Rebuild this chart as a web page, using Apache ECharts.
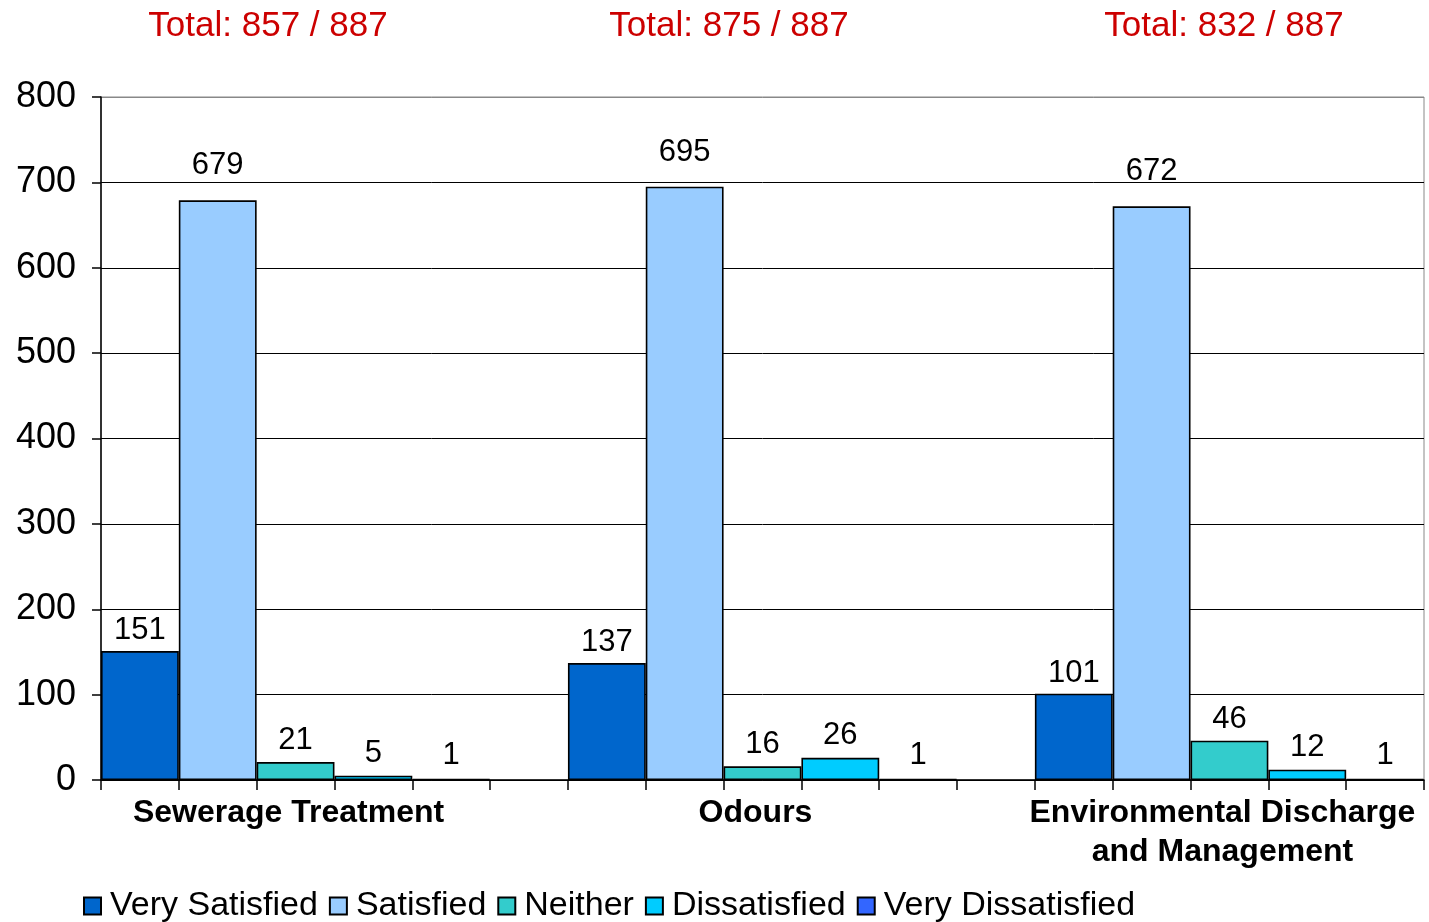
<!DOCTYPE html>
<html>
<head>
<meta charset="utf-8">
<script src="https://cdn.jsdelivr.net/npm/echarts@6/dist/echarts.min.js"></script>
<style>
html,body{margin:0;padding:0;background:#fff;overflow:hidden;}
#chart{width:1429px;height:922px;}
</style>
</head>
<body>
<div id="chart"></div>
<script>
// ---- data ----
const categories = ['Sewerage Treatment', 'Odours', 'Environmental Discharge\nand Management'];
const seriesNames = ['Very Satisfied', 'Satisfied', 'Neither', 'Dissatisfied', 'Very Dissatisfied'];
const verySatisfied = [151, 137, 101];
const satisfied = [679, 695, 672];
const neither = [21, 16, 46];
const dissatisfied = [5, 26, 12];
const veryDissatisfied = [1, 1, 1];
const respondents = 887;
const yMin = 0, yMax = 800, yInterval = 100;

// ---- layout / style ----
const colors = ['#0066CC', '#99CCFF', '#33CCCC', '#00CCFF', '#3366FF'];
const labelDistance = [5, 19, 6, 7, 8];
const titleX = [268, 729, 1224];
const FONT = 'Liberation Sans, Arial, sans-serif';
const allSeries = [verySatisfied, satisfied, neither, dissatisfied, veryDissatisfied];
const slotsPerGroup = seriesNames.length + 1;            // 5 bars + 1 gap slot
const totalSlots = categories.length * slotsPerGroup - 1; // no trailing gap

const el = document.getElementById('chart');
const chart = echarts.init(el, null, {renderer: 'canvas'});
const W = chart.getWidth();
const gridLeft = 101, gridRight = W - 1424, gridTop = 97, gridBottom = 142;
const slotPx = (W - gridLeft - gridRight) / totalSlots;

const totals = categories.map((c, i) => allSeries.reduce((s, arr) => s + arr[i], 0));
const groupCenter = g => g * slotsPerGroup + seriesNames.length / 2;

const nSplit = (yMax - yMin) / yInterval + 1;
const splitColors = [];
for (let i = 0; i < nSplit; i++) splitColors.push(i === nSplit - 1 ? '#888888' : '#000000');

const option = {
  backgroundColor: '#ffffff',
  animation: false,
  textStyle: {fontFamily: FONT},
  grid: {left: gridLeft, right: gridRight, top: gridTop, bottom: gridBottom,
         show: true, borderColor: '#888888', borderWidth: 1,
         containLabel: false, outerBoundsMode: 'none'},
  graphic: totals.map((t, g) => ({
    type: 'text',
    x: titleX[g], y: 9,
    style: {text: 'Total: ' + t + ' / ' + respondents, fill: '#CC0000',
            font: '35px ' + FONT, textAlign: 'center', textVerticalAlign: 'top'}
  })),
  legend: {
    left: 78, top: 884,
    itemWidth: 17, itemHeight: 17, itemGap: 11,
    icon: 'rect',
    itemStyle: {borderColor: '#000', borderWidth: 2},
    textStyle: {fontSize: 34, color: '#000', fontFamily: FONT, padding: [0, 0, 0, 4]},
    data: seriesNames
  },
  xAxis: [
    {
      type: 'value', min: 0, max: totalSlots, interval: 1,
      axisLine: {show: true, lineStyle: {color: '#000', width: 1.5}},
      axisTick: {show: true, length: 10, lineStyle: {color: '#000', width: 1.5}},
      axisLabel: {show: false},
      splitLine: {show: false}
    },
    {
      type: 'value', min: 0, max: totalSlots, interval: 0.5, position: 'bottom',
      axisLine: {show: false}, axisTick: {show: false}, splitLine: {show: false},
      axisLabel: {
        show: true, margin: 14, fontSize: 32, fontWeight: 'bold', color: '#000',
        fontFamily: FONT, lineHeight: 39, align: 'center', padding: [0, 14, 0, 0],
        formatter: v => {
          for (let g = 0; g < categories.length; g++) if (Math.abs(v - groupCenter(g)) < 1e-6) return categories[g];
          return '';
        }
      }
    }
  ],
  yAxis: {
    type: 'value', min: yMin, max: yMax, interval: yInterval,
    axisLine: {show: true, lineStyle: {color: '#000', width: 1.5}},
    axisTick: {show: true, length: 9, lineStyle: {color: '#000', width: 1.5}},
    axisLabel: {fontSize: 36, color: '#000', margin: 25, fontFamily: FONT},
    splitLine: {show: true, lineStyle: {color: splitColors, width: 1}}
  },
  series: seriesNames.map((name, s) => ({
    name: name,
    type: 'bar',
    xAxisIndex: 0,
    barWidth: slotPx,
    barGap: '-100%',
    itemStyle: {color: colors[s], borderColor: '#000', borderWidth: 1.6},
    label: {show: true, position: 'top', distance: labelDistance[s], fontSize: 31, color: '#000', fontFamily: FONT,
            formatter: p => p.value[1]},
    data: allSeries[s].map((v, g) => [g * slotsPerGroup + s + 0.5, v])
  }))
};
chart.setOption(option);
</script>
</body>
</html>
